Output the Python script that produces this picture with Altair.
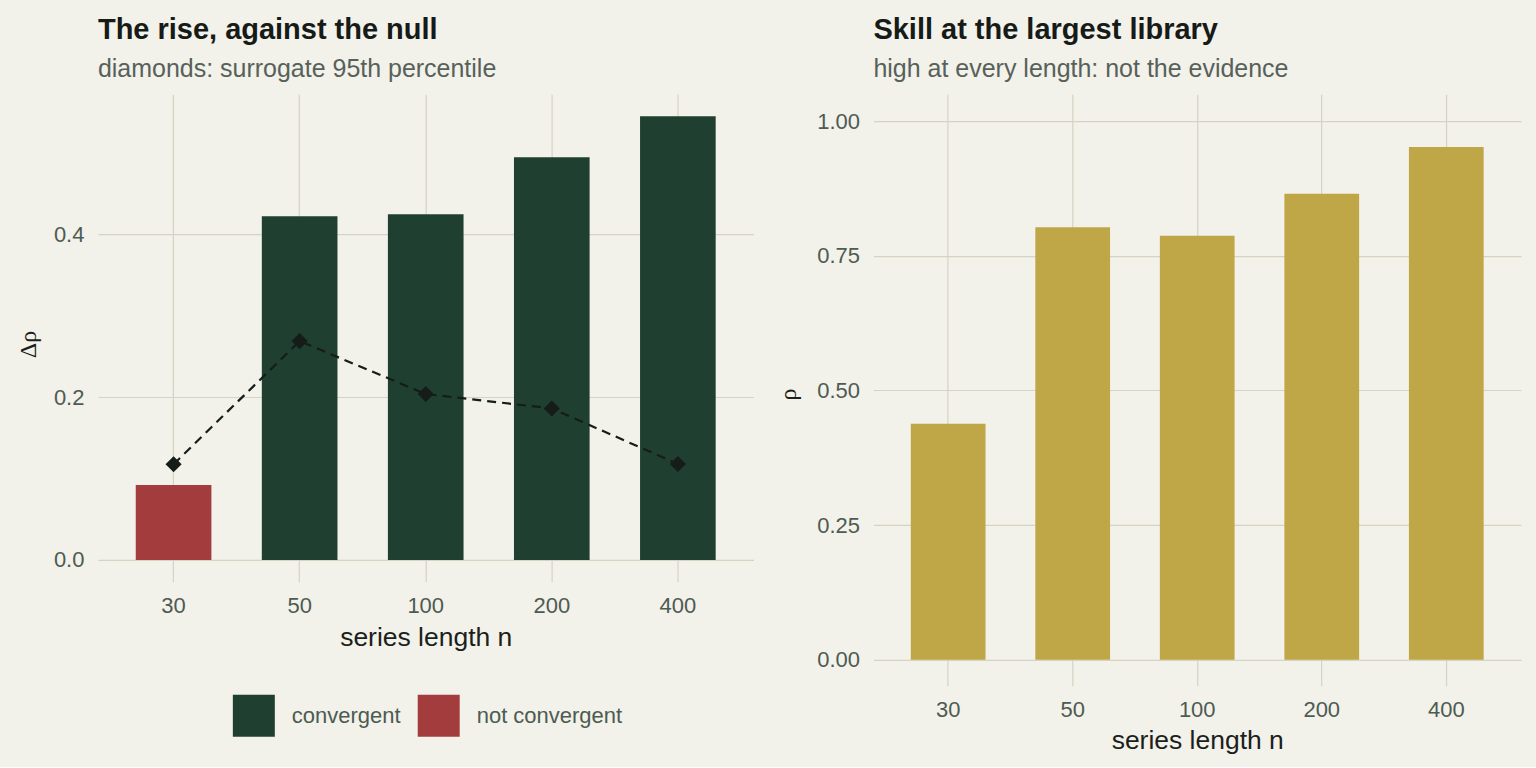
import altair as alt
import pandas as pd

# ---- data ----
n_labels = ["30", "50", "100", "200", "400"]
delta_rho = [0.092, 0.422, 0.4245, 0.4945, 0.545]
surrogate_p95 = [0.1175, 0.2687, 0.2037, 0.186, 0.1178]
status = ["not convergent", "convergent", "convergent", "convergent", "convergent"]
rho_largest = [0.438, 0.803, 0.787, 0.865, 0.952]
status_levels = ["convergent", "not convergent"]

BG = "#f2f1ea"
GRID = "#d5d4c3"
GREEN = "#1f4030"
RED = "#a33d3d"
GOLD = "#bfa646"
DARK = "#161c18"
TITLE_C = "#161b17"
SUB_C = "#57615a"
LAB_C = "#4d5b52"
AX_C = "#1b1f1c"
FONT = "Liberation Sans"

left_df = pd.DataFrame({"n": n_labels, "delta": delta_rho, "p95": surrogate_p95, "status": status})
right_df = pd.DataFrame({"n": n_labels, "rho": rho_largest})


def x_enc(tick_size, title_y):
    return alt.X(
        "n:N",
        sort=n_labels,
        scale=alt.Scale(domain=n_labels, paddingInner=0.4, paddingOuter=0.3),
        title="series length n",
        axis=alt.Axis(
            labelAngle=0, grid=True, gridColor=GRID, gridWidth=1.2, bandPosition=0.5,
            domain=False, ticks=True, tickColor=GRID, tickWidth=1.2, tickSize=tick_size,
            labelPadding=14, labelFontSize=22, labelColor=LAB_C, labelFont=FONT,
            titleFontSize=26.5, titleColor=AX_C, titleFont=FONT, titleFontWeight="normal",
            titleY=title_y, titleBaseline="alphabetic",
        ),
    )


def y_axis(values, fmt, title, title_x, title_y):
    return alt.Axis(
        values=values, format=fmt, grid=True, gridColor=GRID, gridWidth=1.2,
        domain=False, ticks=False, labelPadding=14, labelFontSize=22,
        labelColor=LAB_C, labelFont=FONT,
        title=title, titleAngle=270, titleX=title_x, titleY=title_y,
        titleAlign="center", titleBaseline="middle",
        titleFont="Liberation Serif", titleFontSize=24, titleColor=AX_C,
        titleFontWeight="normal",
    )


yscale_left = alt.Scale(domain=[0, 0.572], nice=False, zero=True)
yaxis_left = y_axis([0, 0.2, 0.4], ".1f", "Δρ", -69, 250)

bars_left = alt.Chart(left_df).mark_bar().encode(
    x=x_enc(22, 86),
    y=alt.Y("delta:Q", scale=yscale_left, axis=yaxis_left),
    color=alt.Color(
        "status:N",
        scale=alt.Scale(domain=status_levels, range=[GREEN, RED]),
        legend=alt.Legend(
            orient="none", legendX=135, legendY=601, direction="horizontal",
            title=None, symbolType="square", symbolSize=1764, symbolStrokeWidth=0,
            symbolOpacity=1, labelFontSize=22, labelFont=FONT, labelColor=LAB_C,
            labelOffset=17, columnPadding=17, padding=0,
        ),
    ),
)

line_left = alt.Chart(left_df).mark_line(color=DARK, strokeDash=[9, 6], strokeWidth=2.2).encode(
    x=x_enc(22, 86),
    y=alt.Y("p95:Q", scale=yscale_left, axis=yaxis_left),
)

pts_left = alt.Chart(left_df).mark_point(shape="diamond", filled=True, size=260, color=DARK, opacity=1).encode(
    x=x_enc(22, 86),
    y=alt.Y("p95:Q", scale=yscale_left, axis=yaxis_left),
)

left = alt.layer(bars_left, line_left, pts_left).properties(
    width=656, height=466,
    title=alt.TitleParams(
        text="The rise, against the null", subtitle="diamonds: surrogate 95th percentile",
        anchor="start", frame="group", font=FONT, fontSize=29, fontWeight="bold",
        color=TITLE_C, subtitleFont=FONT, subtitleFontSize=25, subtitleColor=SUB_C,
        offset=12, subtitlePadding=12,
    ),
)

right = alt.Chart(right_df).mark_bar(color=GOLD).encode(
    x=x_enc(26, 89),
    y=alt.Y("rho:Q", scale=alt.Scale(domain=[0, 1.05], nice=False),
            axis=y_axis([0, 0.25, 0.5, 0.75, 1.0], ".2f", "ρ", -85, 300)),
).properties(
    width=648, height=566,
    title=alt.TitleParams(
        text="Skill at the largest library", subtitle="high at every length: not the evidence",
        anchor="start", frame="group", font=FONT, fontSize=29, fontWeight="bold",
        color=TITLE_C, subtitleFont=FONT, subtitleFontSize=25, subtitleColor=SUB_C,
        offset=12, subtitlePadding=12,
    ),
)

chart = alt.hconcat(left, right, spacing=120, bounds="flush").resolve_scale(
    color="independent"
).properties(
    background=BG,
    padding={"left": 17, "top": 16, "right": 15, "bottom": 12},
).configure_view(stroke=None)

chart.save("out.html", embed_options={"renderer": "svg", "actions": False})
